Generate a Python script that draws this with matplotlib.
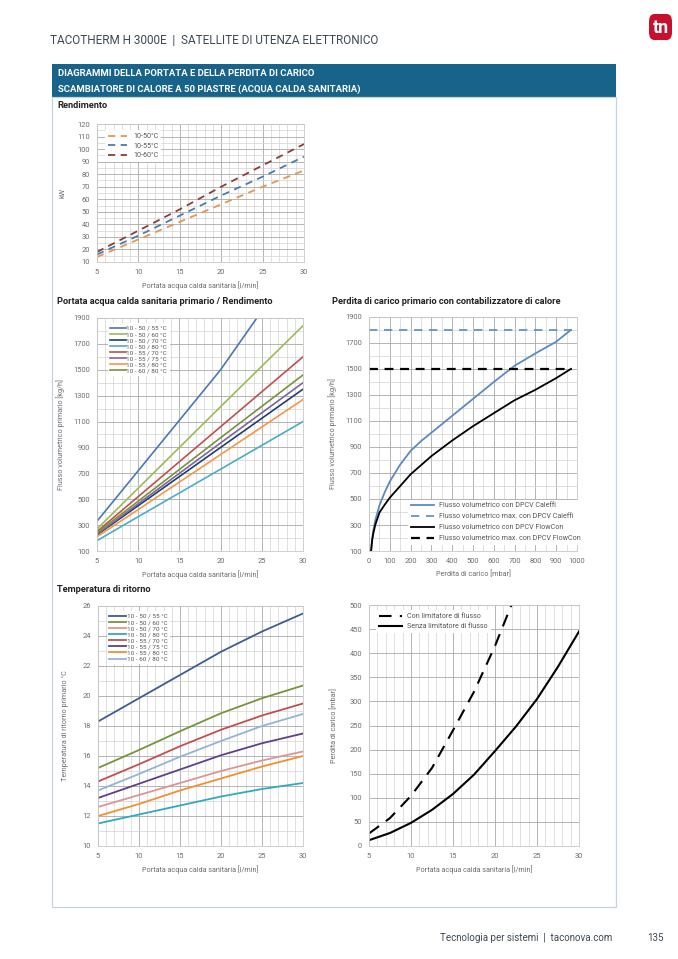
import numpy as np
import matplotlib
matplotlib.use("Agg")
import matplotlib.pyplot as plt
from matplotlib.patches import Rectangle, FancyBboxPatch
from matplotlib.ticker import MultipleLocator, FixedLocator

plt.rcParams['font.family'] = ['Roboto', 'DejaVu Sans']

# =============================================================================
# DATA
# =============================================================================
# Rendimento (kW vs l/min)
rend_x = [5, 10, 15, 20, 25, 30]
rend_labels = ["10-50°C", "10-55°C", "10-60°C"]
rend_50 = [14, 28, 42, 56, 70, 83]
rend_55 = [16, 31, 47, 63, 78, 94]
rend_60 = [18, 35, 52, 70, 87, 104]

# Portata primario (kg/h vs l/min)
flow_labels = ["10 - 50 / 55 °C", "10 - 50 / 60 °C", "10 - 50 / 70 °C", "10 - 50 / 80 °C",
               "10 - 55 / 70 °C", "10 - 55 / 75 °C", "10 - 55 / 80 °C", "10 - 60 / 80 °C"]
flow_x_5055 = [5, 10, 15, 20, 24.4]
flow_5055 = [330, 720, 1110, 1500, 1900]
flow_x = [5, 10, 20, 30]
flow_5060 = [270, 585, 1215, 1840]
flow_5070 = [225, 450, 900, 1350]
flow_5080 = [180, 365, 732, 1100]
flow_5570 = [250, 520, 1060, 1600]
flow_5575 = [230, 465, 935, 1400]
flow_5580 = [210, 420, 845, 1270]
flow_6080 = [240, 485, 975, 1460]

# Perdita di carico primario (mbar -> kg/h)
dp_labels = ["Flusso volumetrico con DPCV Caleffi", "Flusso volumetrico max. con DPCV Caleffi",
             "Flusso volumetrico con DPCV FlowCon", "Flusso volumetrico max. con DPCV FlowCon"]
dp_x = [10, 15, 20, 30, 50, 75, 100, 150, 200, 250, 300, 400, 500, 600, 700, 800, 900, 970]
dp_caleffi = [100, 190, 250, 335, 450, 550, 635, 765, 870, 945, 1010, 1140, 1270, 1400, 1525, 1620, 1710, 1800]
dp_flowcon = [100, 180, 230, 300, 395, 455, 510, 600, 690, 760, 830, 950, 1060, 1160, 1260, 1340, 1430, 1500]
dp_max_x = [0, 975]
dp_max_caleffi = [1800, 1800]
dp_max_flowcon = [1500, 1500]

# Temperatura di ritorno (°C vs l/min)
temp_x = [5, 10, 15, 20, 25, 30]
temp_5055 = [18.3, 19.85, 21.4, 22.95, 24.3, 25.5]
temp_5060 = [15.2, 16.4, 17.65, 18.85, 19.85, 20.7]
temp_5070 = [12.6, 13.4, 14.2, 15.0, 15.7, 16.3]
temp_5080 = [11.5, 12.1, 12.7, 13.3, 13.8, 14.2]
temp_5570 = [14.3, 15.45, 16.65, 17.75, 18.7, 19.5]
temp_5575 = [13.2, 14.15, 15.1, 16.05, 16.85, 17.5]
temp_5580 = [12.0, 12.8, 13.7, 14.5, 15.3, 16.0]
temp_6080 = [13.7, 14.8, 15.95, 17.0, 18.0, 18.8]

# Perdita di carico secondario (mbar vs l/min)
loss_labels = ["Con limitatore di flusso", "Senza limitatore di flusso"]
loss_con_x = [5, 7.5, 10, 12.5, 15, 17.5, 20, 22]
loss_con = [26, 58, 104, 162, 240, 320, 415, 502]
loss_senza_x = [5, 7.5, 10, 12.5, 15, 17.5, 20, 22.5, 25, 27.5, 30]
loss_senza = [12, 27, 48, 75, 108, 148, 197, 248, 305, 372, 445]

# =============================================================================
# FIGURE
# =============================================================================
W, H = 678, 959
fig = plt.figure(figsize=(W / 100, H / 100), dpi=100)

def fx(px):
    return px / W

def fy(py):
    return 1 - py / H

txt_col = "#3d4954"
grey = "#6d6d6d"

# header
fig.text(fx(50), fy(40), "TACOTHERM H 3000E  |  SATELLITE DI UTENZA ELETTRONICO",
         fontsize=8.5, color=txt_col, va="center", ha="left")
logo = FancyBboxPatch((fx(649), fy(40)), fx(23), 26 / H, boxstyle="round,pad=0,rounding_size=0.008",
                      transform=fig.transFigure, facecolor="#c8102e", edgecolor="none")
fig.patches.append(logo)
fig.text(fx(660.5), fy(28), "tn", fontsize=13, fontweight="bold", color="white",
         ha="center", va="center")

# banner + panel border
fig.patches.append(Rectangle((fx(52), fy(97)), fx(616 - 52), 33 / H, transform=fig.transFigure,
                             facecolor="#176389", edgecolor="none"))
fig.patches.append(Rectangle((fx(52), fy(907)), fx(616 - 52), (907 - 97) / H, transform=fig.transFigure,
                             facecolor="none", edgecolor="#c5d3df", lw=0.9))
fig.text(fx(58), fy(73), "DIAGRAMMI DELLA PORTATA E DELLA PERDITA DI CARICO",
         fontsize=6.8, fontweight="bold", color="white", va="center")
fig.text(fx(58), fy(89), "SCAMBIATORE DI CALORE A 50 PIASTRE (ACQUA CALDA SANITARIA)",
         fontsize=6.8, fontweight="bold", color="white", va="center")

# section titles
for x, y, s in [(57, 106, "Rendimento"),
                (57, 301, "Portata acqua calda sanitaria primario / Rendimento"),
                (332, 301, "Perdita di carico primario con contabilizzatore di calore"),
                (57, 589, "Temperatura di ritorno")]:
    fig.text(fx(x), fy(y), s, fontsize=6.7, fontweight="bold", color="#222222", va="center")

# footer
fig.text(fx(612), fy(938), "Tecnologia per sistemi  |  taconova.com", fontsize=7.0,
         color=txt_col, ha="right", va="center")
fig.text(fx(655), fy(938), "135", fontsize=7.0, color=txt_col, ha="center", va="center")


def make_ax(x0, y0, x1, y1, xlim, ylim, xticks, xmin, yticks, ymin):
    ax = fig.add_axes([fx(x0), fy(y1), fx(x1 - x0), (y1 - y0) / H])
    ax.set_xlim(*xlim)
    ax.set_ylim(*ylim)
    ax.xaxis.set_major_locator(FixedLocator(xticks))
    ax.yaxis.set_major_locator(FixedLocator(yticks))
    if xmin:
        ax.xaxis.set_minor_locator(MultipleLocator(xmin))
    if ymin:
        ax.yaxis.set_minor_locator(MultipleLocator(ymin))
    ax.grid(which="major", color="#a8a8a8", lw=0.6)
    ax.grid(which="minor", color="#d3d3d3", lw=0.5)
    ax.set_axisbelow(True)
    for sp in ax.spines.values():
        sp.set_color("#c8c8c8")
        sp.set_linewidth(0.6)
    ax.tick_params(which="both", length=0, labelsize=5.4, labelcolor=grey, pad=5)
    return ax

lab_kw = dict(fontsize=5.2, color=grey)

def style_legend(lg):
    lg.get_frame().set_edgecolor("none")
    lg.get_frame().set_alpha(1)
    for t in lg.get_texts():
        t.set_color("#555555")

x_l_min = np.arange(5, 31, 5)

# ---- Rendimento
ax1 = make_ax(97, 124, 304, 262, (5, 30), (10, 120), x_l_min, 1, np.arange(10, 121, 10), 5)
for vals, c, l in zip([rend_50, rend_55, rend_60], ["#e4964f", "#4a7bb0", "#8e3b3b"], rend_labels):
    ax1.plot(rend_x, vals, color=c, lw=1.3, dashes=(4, 3), label=l)
ax1.set_xlabel("Portata acqua calda sanitaria [l/min]", labelpad=4, **lab_kw)
ax1.set_ylabel("kW", labelpad=8, **lab_kw)
lg = ax1.legend(loc="upper left", fontsize=5.1, frameon=True, handlelength=2.8, borderaxespad=0.5,
                labelspacing=0.35, bbox_to_anchor=(0.02, 0.98))
style_legend(lg)

# ---- Portata primario
ax2 = make_ax(97, 318, 303, 551, (5, 30), (100, 1900), x_l_min, 1, np.arange(100, 1901, 200), 100)
flow_cols = ["#4a78b2", "#9bbb59", "#1f3f6e", "#4bacc6", "#c0504d", "#8064a2", "#f79646", "#77933c"]
ax2.plot(flow_x_5055, flow_5055, color=flow_cols[0], lw=1.2, label=flow_labels[0])
for vals, c, l in zip([flow_5060, flow_5070, flow_5080, flow_5570, flow_5575, flow_5580, flow_6080],
                      flow_cols[1:], flow_labels[1:]):
    ax2.plot(flow_x, vals, color=c, lw=1.2, label=l)
ax2.set_xlabel("Portata acqua calda sanitaria [l/min]", labelpad=4, **lab_kw)
ax2.set_ylabel("Flusso volumetrico primario [kg/h]", labelpad=6, **lab_kw)
lg = ax2.legend(loc="upper left", fontsize=4.6, frameon=True, handlelength=2.4, handletextpad=0.1,
                borderaxespad=0.4, labelspacing=0.1, bbox_to_anchor=(0.04, 0.99))
style_legend(lg)

# ---- Perdita di carico primario
ax3 = make_ax(369, 317, 577, 551, (0, 1000), (100, 1900), np.arange(0, 1001, 100), 50,
              np.arange(100, 1901, 200), 100)
ax3.plot(dp_x, dp_caleffi, color="#5b8ac0", lw=1.3, label=dp_labels[0])
ax3.plot(dp_max_x, dp_max_caleffi, color="#5b8ac0", lw=1.2, dashes=(5, 4), label=dp_labels[1])
ax3.plot(dp_x, dp_flowcon, color="black", lw=1.3, label=dp_labels[2])
ax3.plot(dp_max_x, dp_max_flowcon, color="black", lw=1.6, dashes=(4, 3), label=dp_labels[3])
ax3.set_xlabel("Perdita di carico [mbar]", labelpad=4, **lab_kw)
ax3.set_ylabel("Flusso volumetrico primario [kg/h]", labelpad=6, **lab_kw)
lg = ax3.legend(loc="lower right", fontsize=5.1, frameon=True, handlelength=3.2, borderaxespad=0.2,
                labelspacing=0.55, bbox_to_anchor=(1.04, 0.02))
style_legend(lg)

# ---- Temperatura di ritorno
ax4 = make_ax(98, 606, 303, 846, (5, 30), (10, 26), x_l_min, 1, np.arange(10, 27, 2), 1)
temp_cols = ["#3e5d8f", "#77933c", "#d99694", "#31a9c0", "#c0504d", "#5f3f8a", "#f0902e", "#95b3d7"]
for vals, c, l in zip([temp_5055, temp_5060, temp_5070, temp_5080, temp_5570, temp_5575, temp_5580, temp_6080],
                      temp_cols, flow_labels):
    ax4.plot(temp_x, vals, color=c, lw=1.3, label=l)
ax4.set_xlabel("Portata acqua calda sanitaria [l/min]", labelpad=4, **lab_kw)
ax4.set_ylabel("Temperatura di ritorno primario °C", labelpad=10, **lab_kw)
lg = ax4.legend(loc="upper left", fontsize=4.6, frameon=True, handlelength=2.6, handletextpad=0.1,
                borderaxespad=0.4, labelspacing=0.1, bbox_to_anchor=(0.03, 0.99))
style_legend(lg)

# ---- Perdita di carico secondario
ax5 = make_ax(369, 605, 579, 846, (5, 30), (0, 500), x_l_min, 1, np.arange(0, 501, 50), None)
ax5.plot(loss_con_x, loss_con, color="black", lw=1.5, dashes=(6, 4), label=loss_labels[0])
ax5.plot(loss_senza_x, loss_senza, color="black", lw=1.5, label=loss_labels[1])
ax5.set_xlabel("Portata acqua calda sanitaria [l/min]", labelpad=4, **lab_kw)
ax5.set_ylabel("Perdita di carico [mbar]", labelpad=8, **lab_kw)
lg = ax5.legend(loc="upper left", fontsize=5.1, frameon=True, handlelength=3.2, borderaxespad=0.4,
                labelspacing=0.45, bbox_to_anchor=(0.02, 0.99))
style_legend(lg)

fig.savefig("out.png", dpi=100, facecolor="white")
